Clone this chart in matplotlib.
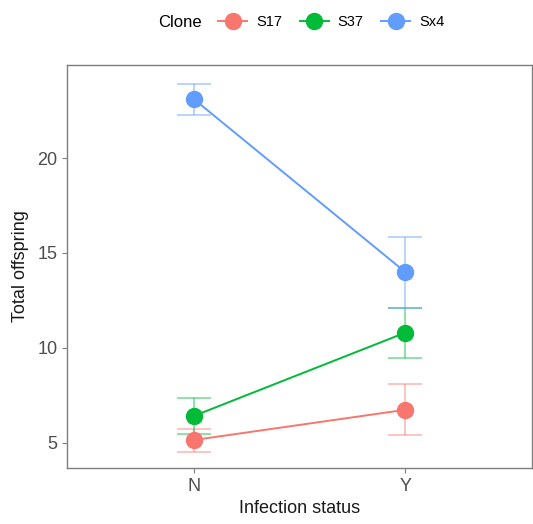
import matplotlib.pyplot as plt
from matplotlib.lines import Line2D

plt.rcParams['font.family'] = ['Liberation Sans', 'DejaVu Sans']

status = ['N', 'Y']
clones = ['S17', 'S37', 'Sx4']
colors = ['#F8766D', '#00BA38', '#619CFF']

mean_S17 = [5.15, 6.74]
lo_S17 = [4.53, 5.40]
hi_S17 = [5.74, 8.10]

mean_S37 = [6.42, 10.80]
lo_S37 = [5.47, 9.47]
hi_S37 = [7.37, 12.10]

mean_Sx4 = [23.1, 14.0]
lo_Sx4 = [22.27, 12.1]
hi_Sx4 = [23.9, 15.86]

means = [mean_S17, mean_S37, mean_Sx4]
los = [lo_S17, lo_S37, lo_Sx4]
his = [hi_S17, hi_S37, hi_Sx4]

fig = plt.figure(figsize=(5.33, 5.24), dpi=100)
ax = fig.add_axes([0.126, 0.107, 0.872, 0.769])

x = [1, 2]
for c, col, m, lo, hi in zip(clones, colors, means, los, his):
    yerr = [[mi - l for mi, l in zip(m, lo)], [h - mi for mi, h in zip(m, hi)]]
    ax.errorbar(x, m, yerr=yerr, fmt='none', ecolor=col, alpha=0.55,
                elinewidth=1.1, capsize=12, capthick=1.1, zorder=2)
    ax.plot(x, m, color=col, lw=1.4, marker='o', ms=11.5, zorder=3)

ax.set_xlim(0.4, 2.6)
ax.set_ylim(3.68, 24.9)
ax.set_xticks(x)
ax.set_xticklabels(status)
ax.set_yticks([5, 10, 15, 20])

for s in ax.spines.values():
    s.set_color('#7F7F7F')
    s.set_linewidth(1.0)
ax.tick_params(colors='#7F7F7F', labelcolor='#4D4D4D', labelsize=13, length=3.5)
ax.set_xlabel('Infection status', fontsize=13, color='#1A1A1A', labelpad=4)
ax.set_ylabel('Total offspring', fontsize=13, color='#1A1A1A', labelpad=6)

handles = [Line2D([], [], color=col, lw=1.4, marker='o', ms=11.5) for col in colors]
leg = fig.legend(handles, clones, loc='center', bbox_to_anchor=(0.565, 0.958), ncol=3,
                 frameon=False, fontsize=10.5, title='Clone', title_fontsize=12,
                 handlelength=2.0, columnspacing=1.2, handletextpad=0.6)
leg._legend_box.align = 'left'
# put title to the left of entries
from matplotlib.offsetbox import HPacker
box = leg._legend_box
box.__class__ = HPacker
box.sep = 12
box.align = 'center'

fig.savefig('out.png', dpi=100)
